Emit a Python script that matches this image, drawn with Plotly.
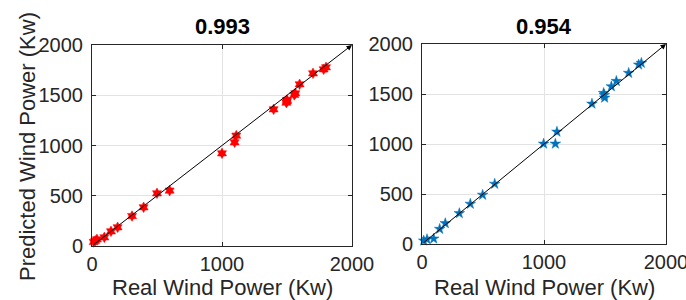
import plotly.graph_objects as go

# ---- data ----
real_1 = [13, 25, 38, 95, 146, 197, 308, 397, 500, 597, 1000, 1097, 1110, 1397,
          1495, 1500, 1500, 1556, 1564, 1597, 1700, 1782, 1800]
pred_1 = [40, 52, 66, 86, 146, 186, 298, 385, 524, 551, 922, 1032, 1098, 1360,
          1426, 1440, 1453, 1503, 1519, 1609, 1718, 1758, 1778]

real_2 = [14, 41, 96, 145, 191, 306, 396, 497, 596, 997, 1093, 1106, 1393,
          1489, 1494, 1497, 1552, 1593, 1694, 1776, 1798]
pred_2 = [33, 47, 53, 150, 207, 307, 401, 491, 601, 1002, 1002, 1122, 1402,
          1509, 1489, 1462, 1576, 1629, 1710, 1793, 1810]

titles = ["0.993", "0.954"]
ref_line = [0, 2000]
x_ticks = [0, 1000, 2000]
y_ticks = [0, 500, 1000, 1500, 2000]
x_label = "Real Wind Power (Kw)"
y_label = "Predicted Wind Power (Kw)"

W, H = 686, 300
FONT = "Liberation Sans, Arial, sans-serif"
AX_COLOR = "#262626"

fig = go.Figure()
fig.add_trace(go.Scatter(x=real_1, y=pred_1, mode="markers", xaxis="x", yaxis="y",
                         marker=dict(symbol="hexagram", size=8, color="#ff0000",
                                     line=dict(width=0.5, color="#ff0000")),
                         cliponaxis=False, showlegend=False))
fig.add_trace(go.Scatter(x=real_2, y=pred_2, mode="markers", xaxis="x2", yaxis="y2",
                         marker=dict(symbol="star", size=8, color="#0072BD",
                                     line=dict(width=0.5, color="#0072BD")),
                         cliponaxis=False, showlegend=False))

def px_x(p):
    return p / W

def px_y(p):
    return 1 - p / H

axis_common = dict(
    range=[0, 2000], showline=True, linecolor=AX_COLOR, linewidth=1, mirror="ticks",
    ticks="inside", ticklen=4, tickcolor=AX_COLOR, showgrid=True, gridcolor="#e3e3e3",
    gridwidth=1, zeroline=False, tickfont=dict(family=FONT, size=20, color=AX_COLOR),
    fixedrange=True, automargin=False, ticklabeloverflow="allow",
)

fig.update_layout(
    width=W, height=H, margin=dict(l=0, r=0, t=0, b=0, autoexpand=False),
    paper_bgcolor="white", plot_bgcolor="white",
    xaxis=dict(axis_common, domain=[px_x(92), px_x(352)], anchor="y", tickvals=x_ticks,
               ticklabelstandoff=0),
    yaxis=dict(axis_common, domain=[px_y(246), px_y(45)], anchor="x", tickvals=y_ticks,
               ticklabelstandoff=4),
    xaxis2=dict(axis_common, domain=[px_x(422), px_x(666)], anchor="y2", tickvals=x_ticks,
                ticklabelstandoff=0),
    yaxis2=dict(axis_common, domain=[px_y(244), px_y(44)], anchor="x2", tickvals=y_ticks,
                ticklabelstandoff=4),
)

# reference y = x arrows
for xr, yr in (("x", "y"), ("x2", "y2")):
    fig.add_annotation(x=ref_line[1], y=ref_line[1], ax=ref_line[0], ay=ref_line[0],
                       xref=xr, yref=yr, axref=xr, ayref=yr, text="", showarrow=True,
                       arrowhead=2, arrowsize=1.1, arrowwidth=1, arrowcolor="black",
                       standoff=0, startstandoff=0)

# titles
for cx, t in ((222, titles[0]), (544, titles[1])):
    fig.add_annotation(x=px_x(cx), y=px_y(26), xref="paper", yref="paper", text=f"<b>{t}</b>",
                       showarrow=False, xanchor="center", yanchor="middle",
                       font=dict(family=FONT, size=22, color="black"))

# x labels
for cx, cy in ((222, 287), (544, 287)):
    fig.add_annotation(x=px_x(cx), y=px_y(cy), xref="paper", yref="paper", text=x_label,
                       showarrow=False, xanchor="center", yanchor="middle",
                       font=dict(family=FONT, size=22, color=AX_COLOR))

# y label
fig.add_annotation(x=px_x(27), y=px_y(147), xref="paper", yref="paper", text=y_label,
                   showarrow=False, xanchor="center", yanchor="middle", textangle=-90,
                   font=dict(family=FONT, size=22, color=AX_COLOR))

fig.write_html("out.html", config={"displayModeBar": False},
               post_script="document.body.style.margin='0';document.body.style.overflow='hidden';")
